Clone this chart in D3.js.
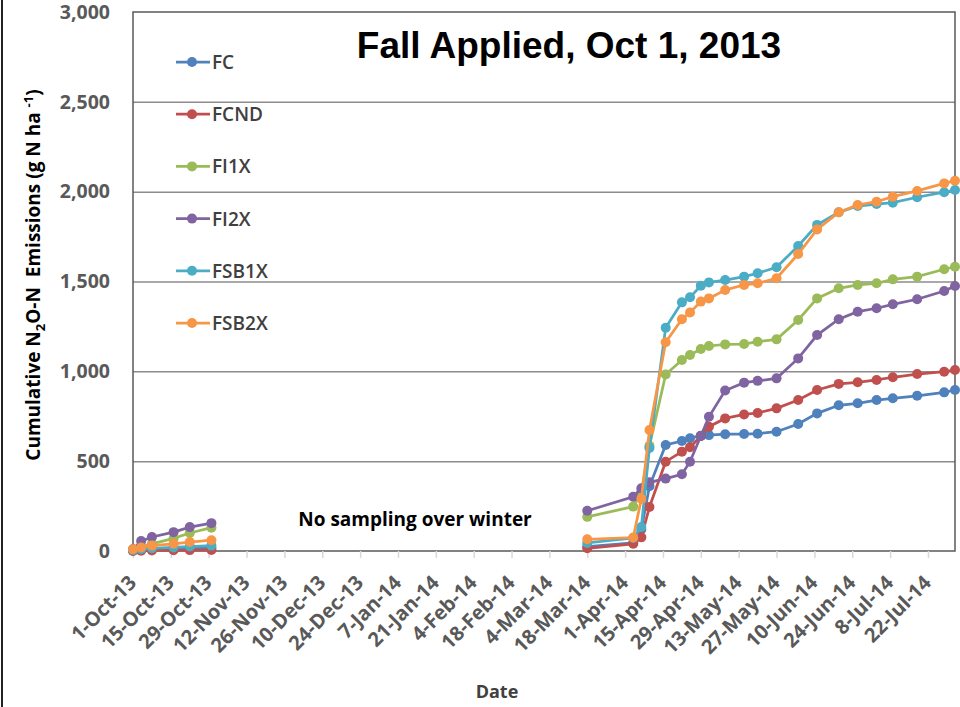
<!DOCTYPE html>
<html>
<head>
<meta charset="utf-8">
<script src="https://cdn.jsdelivr.net/npm/d3@7"></script>
<style>
  body { margin: 0; background: #fff; }
  svg { display: block; }
  .tick text { font-family: "Open Sans", sans-serif; font-weight: bold; fill: #595959; }
</style>
</head>
<body>
<svg width="960" height="707"></svg>
<script>

// sampling dates (fall and spring campaigns)
const fallDates = ['2013-10-01', '2013-10-04', '2013-10-08', '2013-10-16', '2013-10-22', '2013-10-30'];
const springDates = ['2014-03-18', '2014-04-04', '2014-04-07', '2014-04-10', '2014-04-16', '2014-04-22',
  '2014-04-25', '2014-04-29', '2014-05-02', '2014-05-08', '2014-05-15', '2014-05-20', '2014-05-27',
  '2014-06-04', '2014-06-11', '2014-06-19', '2014-06-26', '2014-07-03', '2014-07-09', '2014-07-18',
  '2014-07-28', '2014-08-01'];

const seriesNames = ['FC', 'FCND', 'FI1X', 'FI2X', 'FSB1X', 'FSB2X'];
const seriesColors = ['#4F81BD', '#C0504D', '#9BBB59', '#8064A2', '#4BACC6', '#F79646'];

// cumulative emissions, first 6 = fall, rest = spring
const fc = [2, 5, 8, 10, 14, 18,
  25, 45, 120, 360, 590, 612, 628, 642, 645, 650, 651, 653, 664, 707, 766, 811, 822, 840, 850, 864, 883, 896];
const fcnd = [0, 2, 3, 4, 5, 6,
  15, 40, 76, 245, 497, 553, 577, 640, 692, 738, 760, 768, 794, 840, 896, 930, 939, 952, 967, 985, 998, 1007];
const fi1x = [10, 25, 40, 70, 100, 130,
  190, 247, 330, 585, 983, 1063, 1091, 1124, 1141, 1150, 1152, 1165, 1178, 1286, 1406, 1462, 1481, 1490, 1512, 1527, 1568, 1582];
const fi2x = [10, 55, 78, 105, 133, 155,
  224, 302, 349, 382, 403, 427, 497, 640, 747, 893, 937, 947, 961, 1072, 1202, 1290, 1332, 1351, 1373, 1401, 1447, 1475];
const fsb1x = [5, 10, 15, 20, 25, 30,
  45, 72, 134, 573, 1243, 1384, 1412, 1477, 1495, 1508, 1527, 1546, 1579, 1698, 1815, 1885, 1920, 1931, 1939, 1969, 1997, 2009];
const fsb2x = [10, 20, 30, 40, 50, 60,
  65, 75, 290, 673, 1162, 1290, 1327, 1388, 1406, 1453, 1481, 1490, 1518, 1653, 1790, 1885, 1926, 1944, 1972, 2004, 2046, 2061];

const yTicks = [0, 500, 1000, 1500, 2000, 2500, 3000];

const allValues = [fc, fcnd, fi1x, fi2x, fsb1x, fsb2x];

// chart size
const plotLeft = 133, plotRight = 955, plotTop = 12, plotBottom = 551;

const svg = d3.select('svg');
const parse = d3.utcParse('%Y-%m-%d');

// outer frame line on the left edge of the picture
svg.append('line')
  .attr('x1', 2).attr('x2', 2).attr('y1', 0).attr('y2', 707)
  .attr('stroke', '#222').attr('stroke-width', 2);

const xScale = d3.scaleUtc()
  .domain([parse('2013-10-01'), parse('2014-08-01')])
  .range([plotLeft, plotRight]);

const yScale = d3.scaleLinear()
  .domain([0, 3000])
  .range([plotBottom, plotTop]);

// grid lines
svg.append('g')
  .attr('transform', `translate(${plotLeft},0)`)
  .call(d3.axisLeft(yScale).tickValues(yTicks.slice(1, -1)).tickSize(-(plotRight - plotLeft)).tickFormat(''))
  .call(g => g.select('.domain').remove())
  .call(g => g.selectAll('line').attr('stroke', '#8c8c8c').attr('stroke-width', 1.5));

// plot border
svg.append('rect')
  .attr('x', plotLeft).attr('y', plotTop)
  .attr('width', plotRight - plotLeft).attr('height', plotBottom - plotTop)
  .attr('fill', 'none').attr('stroke', '#595959').attr('stroke-width', 1.5);

// y axis
svg.append('g')
  .attr('transform', `translate(${plotLeft},0)`)
  .call(d3.axisLeft(yScale).tickValues(yTicks).tickFormat(d3.format(',')).tickSize(0).tickPadding(23))
  .call(g => g.select('.domain').remove())
  .call(g => g.selectAll('text').attr('font-size', 19.5));

// x axis, a tick every 14 days
const xTicks = d3.utcDay.range(parse('2013-10-01'), parse('2014-07-30'), 14);
svg.append('g')
  .attr('transform', `translate(0,${plotBottom})`)
  .call(d3.axisBottom(xScale).tickValues(xTicks).tickFormat(d3.utcFormat('%-d-%b-%y')).tickSize(7))
  .call(g => g.select('.domain').remove())
  .call(g => g.selectAll('line').attr('stroke', '#d9d9d9').attr('stroke-width', 1.5))
  .call(g => g.selectAll('text')
    .attr('font-size', 20)
    .attr('text-anchor', 'end')
    .attr('x', 0).attr('y', 0).attr('dy', 0)
    .attr('transform', 'translate(4,33) rotate(-45)'));

// lines
const line = d3.line()
  .x(d => xScale(d.date))
  .y(d => yScale(d.value));

seriesNames.forEach((name, i) => {
  const vals = allValues[i];
  const fall = fallDates.map((d, j) => ({ date: parse(d), value: vals[j] }));
  const spring = springDates.map((d, j) => ({ date: parse(d), value: vals[j + fallDates.length] }));
  const g = svg.append('g');
  [fall, spring].forEach(seg => {
    g.append('path')
      .datum(seg)
      .attr('d', line)
      .attr('fill', 'none')
      .attr('stroke', seriesColors[i])
      .attr('stroke-width', 2.75);
    g.selectAll(null)
      .data(seg)
      .enter()
      .append('circle')
      .attr('cx', d => xScale(d.date))
      .attr('cy', d => yScale(d.value))
      .attr('r', 5)
      .attr('fill', seriesColors[i]);
  });
});

// legend
const legend = svg.append('g').attr('transform', 'translate(176,62)');
seriesNames.forEach((name, i) => {
  const row = legend.append('g').attr('transform', `translate(0,${i * 52.2})`);
  row.append('line').attr('x1', 0).attr('x2', 34)
    .attr('stroke', seriesColors[i]).attr('stroke-width', 2.75);
  row.append('circle').attr('cx', 16).attr('r', 5).attr('fill', seriesColors[i]);
  row.append('text')
    .attr('x', 36).attr('y', 7)
    .attr('font-family', '"Open Sans", sans-serif')
    .attr('font-size', 19)
    .attr('font-weight', 600)
    .attr('fill', '#404040')
    .text(name);
});

// texts
svg.append('text')
  .attr('x', 569).attr('y', 58)
  .attr('text-anchor', 'middle')
  .attr('font-family', '"Liberation Sans", Arial, sans-serif')
  .attr('font-weight', 'bold')
  .attr('font-size', 37)
  .attr('fill', '#000')
  .text('Fall Applied, Oct 1, 2013');

svg.append('text')
  .attr('x', 415).attr('y', 526)
  .attr('text-anchor', 'middle')
  .attr('font-family', '"Open Sans", sans-serif')
  .attr('font-weight', 'bold')
  .attr('font-size', 19)
  .attr('fill', '#000')
  .text('No sampling over winter');

svg.append('text')
  .attr('x', 497).attr('y', 698)
  .attr('text-anchor', 'middle')
  .attr('font-family', '"Open Sans", sans-serif')
  .attr('font-weight', 'bold')
  .attr('font-size', 18)
  .attr('fill', '#404040')
  .text('Date');

const yTitle = svg.append('text')
  .attr('transform', 'translate(40,275) rotate(-90)')
  .attr('text-anchor', 'middle')
  .attr('font-family', '"Open Sans", sans-serif')
  .attr('font-weight', 'bold')
  .attr('font-size', 19)
  .attr('fill', '#000')
  .style('white-space', 'pre');
yTitle.append('tspan').text('Cumulative N');
yTitle.append('tspan').attr('font-size', 13).attr('dy', 5).text('2');
yTitle.append('tspan').attr('dy', -5).text('O-N  Emissions (g N ha ');
yTitle.append('tspan').attr('font-size', 13).attr('dy', -7).text('-1');
yTitle.append('tspan').attr('dy', 7).text(')');

</script>
</body>
</html>
